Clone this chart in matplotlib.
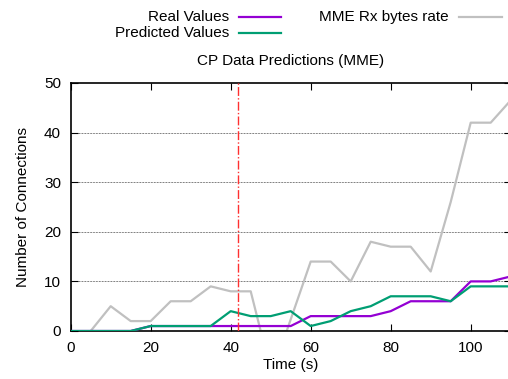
import matplotlib
matplotlib.use("Agg")
import matplotlib.pyplot as plt
from matplotlib.lines import Line2D

plt.rcParams['font.family'] = ['Liberation Sans', 'DejaVu Sans']
plt.rcParams['font.size'] = 11

time = [0, 5, 10, 15, 20, 25, 30, 35, 40, 45, 50, 55, 60, 65, 70, 75, 80, 85, 90, 95, 100, 105, 110]
real_values = [0, 0, 0, 0, 1, 1, 1, 1, 1, 1, 1, 1, 3, 3, 3, 3, 4, 6, 6, 6, 10, 10, 11]
predicted_values = [0, 0, 0, 0, 1, 1, 1, 1, 4, 3, 3, 4, 1, 2, 4, 5, 7, 7, 7, 6, 9, 9, 9]
rate_time = [5, 10, 15, 20, 25, 30, 35, 40, 45, 47.5, 54, 60, 65, 70, 75, 80, 85, 90, 95, 100, 105, 110]
rx_rate = [0, 5, 2, 2, 6, 6, 9, 8, 8, 0, 0, 14, 14, 10, 18, 17, 17, 12, 26, 42, 42, 46.5]
marker_time = 41.7
yticks = [0, 10, 20, 30, 40, 50]
xticks = [0, 20, 40, 60, 80, 100]

W, H = 508, 379
fig = plt.figure(figsize=(W / 100, H / 100), dpi=100)
ax = fig.add_axes([70.7 / W, 1 - 331 / H, 440 / W, 248 / H])

ax.plot(rate_time, rx_rate, color='#c0c0c0', lw=1.6, zorder=2)
ax.plot(time, real_values, color='#9400d3', lw=1.6, zorder=3)
ax.plot(time, predicted_values, color='#009e73', lw=1.6, zorder=4)
ax.axvline(marker_time, color='#ff3030', lw=1.0, ls='-.', zorder=5)

ax.set_xlim(0, 110)
ax.set_ylim(0, 50)
ax.set_xticks(xticks)
ax.set_yticks(yticks)
for y in yticks[1:-1]:
    ax.axhline(y, color='black', lw=0.5, ls=(0, (1, 1.2)), zorder=1)
ax.tick_params(direction='in', top=True, right=True, length=5, width=0.8, labelsize=11, pad=7)
for s in ax.spines.values():
    s.set_linewidth(1.2)
ax.set_xlabel('Time (s)', fontsize=11, labelpad=2)
ax.set_ylabel('Number of Connections', fontsize=11, labelpad=10)

fig.text(290.7 / W, 1 - 61 / H, 'CP Data Predictions (MME)', ha='center', va='center', fontsize=11)

# legend
rows = [('Real Values', '#9400d3', 229, 239, 281, 17.3),
        ('Predicted Values', '#009e73', 229, 239, 281, 33.3),
        ('MME Rx bytes rate', '#c0c0c0', 449, 459, 502, 17.3)]
for label, col, tx, x0, x1, y in rows:
    fig.text(tx / W, 1 - y / H, label, ha='right', va='center', fontsize=11)
    fig.add_artist(Line2D([x0 / W, x1 / W], [1 - y / H, 1 - y / H], color=col, lw=1.6,
                          transform=fig.transFigure))

fig.savefig('out.png', dpi=100)
